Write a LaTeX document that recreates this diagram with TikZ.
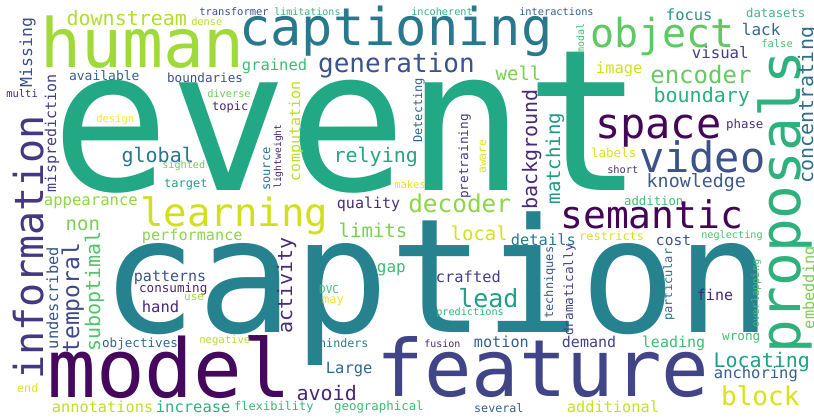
\documentclass[tikz,border=0pt]{standalone}
\usepackage{fontspec}
\setmainfont{DejaVu Sans Mono}
\tikzset{wd/.style={inner sep=0pt, outer sep=0pt, anchor=base west}}
% horizontal word: glyph-left x, baseline y, size, hex colour, text
\newcommand\HW[5]{\node[wd] (#5) at ({#1-0.07*#3},#2) {\fontsize{#3pt}{#3pt}\selectfont\color[HTML]{#4}#5};}
% vertical word (reads bottom to top): baseline x, bottom y, size, hex colour, text
\newcommand\VW[5]{\node[wd, rotate=90] (#5) at (#1,{#2+0.07*#3}) {\fontsize{#3pt}{#3pt}\selectfont\color[HTML]{#4}#5};}
\begin{document}
\begin{tikzpicture}[x=1pt, y=-1pt]
\fill[white] (0,0) rectangle (814,418);
\clip (0,0) rectangle (814,418);
% large words
\HW{65}{190}{197}{22A884}{event}
\HW{113}{332}{159}{26828E}{caption}
\HW{45}{67}{68}{A0DA39}{human}
\HW{243}{45}{52}{2A788E}{captioning}
\HW{53}{397}{81}{46085C}{model}
\HW{382}{396}{79}{414487}{feature}
\VW{800}{350}{56}{2DB27D}{proposals}
\VW{43}{377}{40}{453781}{information}
% horizontal words
\HW{68}{25}{20}{B2DD2D}{downstream}
\HW{70}{80}{13}{33638D}{available}
\HW{168}{82}{12.6}{3B528B}{boundaries}
\HW{7}{97}{10.5}{482878}{multi}
\HW{97}{122}{10.5}{FDE725}{design}
\HW{200}{15}{10.5}{3B528B}{transformer}
\HW{275}{15}{10}{34B679}{limitations}
\HW{192}{25}{10.3}{B5DE2B}{dense}
\HW{243}{70}{15.5}{40BD72}{grained}
\HW{320}{72}{26}{3B528B}{generation}
\HW{208}{97}{10.3}{6CCD5A}{diverse}
\HW{213}{110}{12}{482878}{topic}
\HW{412}{15}{10.2}{2FB47C}{incoherent}
\HW{520}{15}{10.3}{355F8D}{interactions}
\HW{497}{80}{19}{7AD151}{well}
\HW{597}{73}{15.5}{D0E11C}{image}
\HW{593}{47}{40}{5EC962}{object}
\HW{667}{20}{15.5}{2A938B}{focus}
\HW{747}{17}{12.3}{3FB58A}{datasets}
\HW{743}{35}{16}{31688E}{lack}
\HW{762}{47}{10.5}{4AC16D}{false}
\HW{693}{58}{15.7}{433E85}{visual}
\HW{652}{83}{24}{63CB5F}{encoder}
\HW{655}{102}{20}{29AF7F}{boundary}
\HW{598}{138}{42}{450559}{space}
\HW{727}{128}{12.4}{46327E}{phase}
\HW{123}{162}{20}{2A768E}{global}
\HW{163}{168}{10.2}{6CCD5A}{sighted}
\HW{165}{187}{12}{20A386}{target}
\HW{45}{205}{15.6}{8FD744}{appearance}
\HW{67}{230}{19}{7AD151}{non}
\HW{143}{226}{39}{D0E11C}{learning}
\HW{143}{240}{15.2}{8ED645}{performance}
\HW{335}{162}{20}{25A584}{relying}
\HW{338}{208}{15}{472E7C}{quality}
\HW{340}{237}{19}{7AD151}{limits}
\HW{378}{272}{16}{3FBC73}{gap}
\HW{395}{188}{10.5}{E5E419}{makes}
\HW{410}{212}{24.4}{8ED645}{decoder}
\HW{452}{240}{19}{D5E21A}{local}
\HW{512}{245}{15.4}{2A788E}{details}
\HW{580}{240}{12}{D8E219}{restricts}
\HW{592}{157}{12.5}{D8E219}{labels}
\HW{437}{282}{15.4}{433E85}{crafted}
\HW{642}{172}{42}{3B528B}{video}
\HW{648}{187}{18.3}{3E5A8C}{knowledge}
\HW{608}{173}{10.3}{46327E}{short}
\HW{625}{205}{12.3}{3FBC73}{addition}
\HW{563}{228}{38}{450457}{semantic}
\HW{657}{245}{14.6}{3B528B}{cost}
\HW{702}{238}{10.2}{4AC16D}{neglecting}
\HW{135}{281}{15}{3B528B}{patterns}
\HW{140}{292}{12.6}{482878}{consuming}
\HW{185}{300}{11}{A5DB36}{use}
\HW{143}{312}{15.5}{482878}{hand}
\HW{103}{347}{12.6}{31688E}{objectives}
\HW{18}{392}{11.7}{E5E419}{end}
\HW{53}{412}{15.3}{C2DF23}{annotations}
\HW{157}{412}{15.5}{2DB27D}{increase}
\HW{200}{343}{10.6}{B5DE2B}{negative}
\HW{320}{293}{11}{3FBC73}{DVC}
\HW{323}{303}{12}{F1E51D}{may}
\HW{320}{347}{11.7}{2A788E}{hinders}
\HW{327}{373}{15.5}{31688E}{Large}
\HW{298}{400}{20}{482677}{avoid}
\HW{235}{410}{12}{35B779}{flexibility}
\HW{335}{410}{12.4}{3FBC73}{geographical}
\HW{460}{307}{25}{1FA187}{lead}
\HW{437}{315}{10.2}{35B779}{predictions}
\HW{475}{347}{15.2}{355F8D}{motion}
\HW{425}{347}{10}{482878}{fusion}
\HW{563}{347}{15}{414487}{demand}
\HW{475}{412}{11.7}{355F8D}{several}
\HW{568}{412}{15.3}{C8E020}{additional}
\HW{698}{300}{15}{482475}{fine}
\HW{643}{347}{15}{3FBC73}{leading}
\HW{723}{340}{12.7}{44BF70}{wrong}
\HW{715}{367}{20}{1FA088}{Locating}
\HW{715}{378}{15.5}{355F8D}{anchoring}
\HW{723}{405}{26}{D8E219}{block}
% vertical words
\VW{32}{86}{16.5}{3C4F8A}{Missing}
\VW{56}{191}{15}{423F85}{misprediction}
\VW{300}{180}{15}{BDDF26}{computation}
\VW{281}{188}{9.7}{482475}{lightweight}
\VW{270}{190}{12}{2C728E}{source}
\VW{584}{53}{10}{44BF70}{modal}
\VW{422}{142}{12}{33638D}{Detecting}
\VW{537}{208}{20}{482878}{background}
\VW{560}{203}{19}{1F9A8A}{matching}
\VW{468}{198}{12.8}{433D84}{pretraining}
\VW{486}{173}{11.4}{E2E418}{aware}
\VW{813}{182}{20}{2D708E}{concentrating}
\VW{79}{352}{23}{3F4889}{temporal}
\VW{100}{350}{20}{50C46A}{suboptimal}
\VW{58}{348}{15.4}{39568C}{undescribed}
\VW{292}{332}{20}{472C7A}{activity}
\VW{553}{318}{12}{38598C}{techniques}
\VW{573}{335}{12.7}{414487}{dramatically}
\VW{672}{320}{12}{2C728E}{particular}
\VW{814}{328}{15.3}{7AD151}{embedding}
\VW{759}{327}{10.3}{44BF70}{overlapping}
\end{tikzpicture}
\end{document}
